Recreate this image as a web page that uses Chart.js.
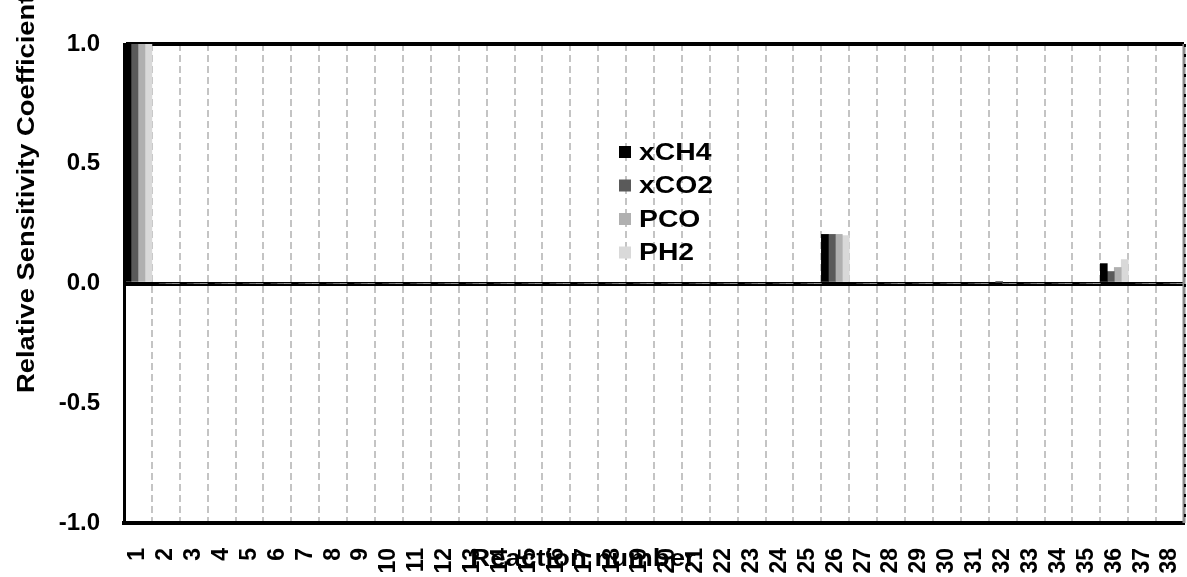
<!DOCTYPE html>
<html>
<head>
<meta charset="utf-8">
<script src="https://cdn.jsdelivr.net/npm/chart.js@4.4.1/dist/chart.umd.min.js"></script>
<style>
  html, body { margin: 0; padding: 0; background: #fff; }
  canvas { display: block; }
</style>
</head>
<body>
<canvas id="sensChart" width="1187" height="577"></canvas>
<script>
// reaction numbers 1..38
const reactions = ['1','2','3','4','5','6','7','8','9','10','11','12','13','14','15','16','17','18','19',
                   '20','21','22','23','24','25','26','27','28','29','30','31','32','33','34','35','36','37','38'];

const xCH4 = [1.0,0,0,0,0,0,0,0,0,0,0,0,0,0,0,0,0,0,0,0,0,0,0,0,0,0.205,0,0,0,0,0,0,0,0,0,0.083,0,0];
const xCO2 = [1.0,0,0,0,0,0,0,0,0,0,0,0,0,0,0,0,0,0,0,0,0,0,0,0,0,0.205,0,0,0,0,0,0.005,0,0,0,0.05,0,0];
const PCO  = [1.0,0,0,0,0,0,0,0,0,0,0,0,0,0,0,0,0,0,0,0,0,0,0,0,0,0.205,0,0,0,0,0,0,0,0,0,0.067,0,0];
const PH2  = [1.0,0,0,0,0,0,0,0,0,0,0,0,0,0,0,0,0,0,0,0,0,0,0,0,0,0.2,0,0,0,0,0,0,0,0,0,0.1,0,0];

const yTicks = [-1.0, -0.5, 0.0, 0.5, 1.0];

const FONT = "'Liberation Sans', Arial, sans-serif";

// titles and legend sit at fixed spots in the original, so they are painted here
const overlay = {
    id: 'overlay',
    afterDraw(chart) {
        const c = chart.ctx;
        const area = chart.chartArea;

        // right frame: grey with dark dashes
        c.save();
        c.strokeStyle = '#8c8c8c';
        c.lineWidth = 3;
        c.beginPath();
        c.moveTo(area.right, area.top);
        c.lineTo(area.right, area.bottom);
        c.stroke();
        c.strokeStyle = '#000';
        c.lineWidth = 2;
        c.setLineDash([3, 7]);
        c.beginPath();
        c.moveTo(area.right + 1, area.top);
        c.lineTo(area.right + 1, area.bottom);
        c.stroke();
        c.restore();

        // legend
        c.save();
        c.font = 'bold 24px ' + FONT;
        c.textBaseline = 'middle';
        chart.data.datasets.forEach((ds, i) => {
            const y = 152 + i * 33.5;
            c.fillStyle = ds.backgroundColor;
            c.fillRect(619, y - 6, 12, 12);
            c.save();
            c.translate(639, y + 1);
            c.scale(1.18, 1);
            c.fillStyle = '#000';
            c.fillText(ds.label, 0, 0);
            c.restore();
        });
        c.restore();

        // y title
        c.save();
        c.fillStyle = '#000';
        c.font = 'bold 24px ' + FONT;
        c.translate(34, 393);
        c.rotate(-Math.PI / 2);
        c.scale(1.14, 1);
        c.textAlign = 'left';
        c.fillText('Relative Sensitivity Coefficient', 0, 0);
        c.restore();

        // x title
        c.save();
        c.fillStyle = '#000';
        c.font = 'bold 23px ' + FONT;
        c.translate(583, 566);
        c.scale(1.2, 1);
        c.textAlign = 'center';
        c.fillText('Reaction number', 0, 0);
        c.restore();
    }
};

const ctx = document.getElementById('sensChart').getContext('2d');

const sensChart = new Chart(ctx, {
    type: 'bar',
    data: {
        labels: reactions,
        datasets: [
            { label: 'xCH4', data: xCH4, backgroundColor: '#000000' },
            { label: 'xCO2', data: xCO2, backgroundColor: '#5a5a5a' },
            { label: 'PCO',  data: PCO,  backgroundColor: '#b0b0b0' },
            { label: 'PH2',  data: PH2,  backgroundColor: '#d9d9d9' }
        ]
    },
    options: {
        responsive: false,
        animation: false,
        devicePixelRatio: 1,
        layout: { padding: { top: 44, right: 3, left: 0, bottom: 0 } },
        datasets: {
            bar: { categoryPercentage: 1.0, barPercentage: 1.0 }
        },
        plugins: {
            legend: { display: false },
            tooltip: { enabled: false }
        },
        scales: {
            x: {
                offset: true,
                afterFit: (scale) => {
                    scale.height = 54;
                    scale.paddingLeft = 0;
                    scale.paddingRight = 0;
                },
                grid: {
                    offset: true,
                    drawTicks: false,
                    color: '#c4c4c4',
                    lineWidth: 2
                },
                border: { display: true, color: '#000', width: 4, dash: [7, 4] },
                ticks: {
                    autoSkip: false,
                    minRotation: 90,
                    maxRotation: 90,
                    padding: 25,
                    color: '#000',
                    font: { family: FONT, size: 23, weight: 'bold' }
                }
            },
            y: {
                min: yTicks[0],
                max: yTicks[yTicks.length - 1],
                afterFit: (scale) => {
                    scale.width = 124;
                    scale.paddingTop = 0;
                    scale.paddingBottom = 0;
                },
                afterBuildTicks: (scale) => { scale.ticks = yTicks.map(v => ({ value: v })); },
                grid: {
                    drawTicks: false,
                    color: (c) => (c.tick && (c.tick.value === 0 || c.tick.value === 1)) ? '#000' : 'rgba(0,0,0,0)',
                    lineWidth: 4
                },
                border: { display: true, color: '#000', width: 3 },
                ticks: {
                    padding: 24,
                    color: '#000',
                    font: { family: FONT, size: 24, weight: 'bold' },
                    callback: (v) => Number(v).toFixed(1)
                }
            }
        }
    },
    plugins: [overlay]
});
</script>
</body>
</html>
